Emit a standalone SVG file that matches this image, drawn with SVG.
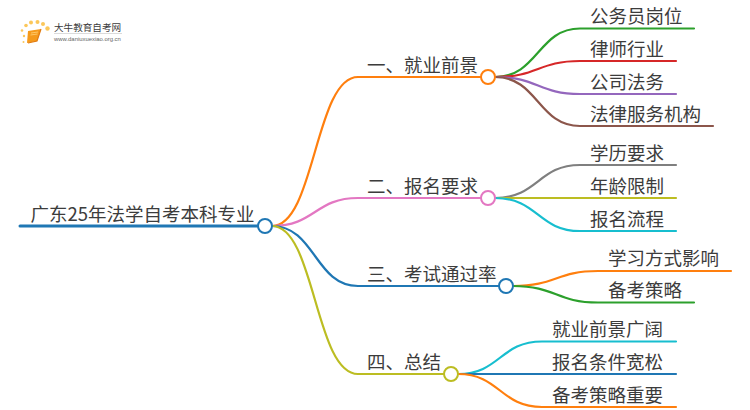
<svg xmlns="http://www.w3.org/2000/svg" width="750" height="410" viewBox="0 0 750 410">
<style>
text{font-family:"Noto Sans CJK SC","Liberation Sans",sans-serif;font-size:18.5px;fill:#3c3c3c}
.c{fill:none;stroke-width:2.2;stroke-linecap:round}
.n{fill:#fff;stroke-width:2}
.o{stroke:#ff7f0e}.p{stroke:#e377c2}.b{stroke:#1f77b4}.y{stroke:#bcbd22}.g{stroke:#2ca02c}.r{stroke:#d62728}.v{stroke:#9467bd}.w{stroke:#8c564b}.h{stroke:#7f7f7f}.t{stroke:#17becf}
</style>
<g id="logo">
<path d="M28 31 L41 29 L37 41 L27 43 Z" fill="#f59a1b"/>
<path d="M31 33 L38 32 M30.500 35 L37.500 34" stroke="#ffd27a" stroke-width="0.800" fill="none"/>
<path d="M28 43 L37 41 L41 29" fill="none" stroke="#e07a10" stroke-width="1.200"/>
<g fill="#fbc75a"><circle cx="26" cy="25.500" r="1.800"/><circle cx="31" cy="22.500" r="2"/><circle cx="37.500" cy="22" r="2"/><circle cx="43" cy="24" r="2"/><circle cx="47.500" cy="28.500" r="2.200"/><circle cx="22" cy="30.500" r="1.300"/><circle cx="24" cy="36" r="1.200"/><circle cx="23.500" cy="42" r="1"/></g>
<text x="54" y="31" style="font-size:9.600px">大牛教育自考网</text>
<rect x="54" y="33" width="68" height="0.700" fill="#ccc"/>
<text x="54" y="41" style="font-size:5.900px;font-family:'Liberation Sans',sans-serif;fill:#666">www.daniuxuexiao.org.cn</text>
</g>
<g id="connectors">
<path class="c b" style="stroke-width:3" d="M20 226H258"/>
<path class="c o" d="M272 226C315 226 315 77 358 77H481"/>
<path class="c p" d="M272 226C315 226 315 198 358 198H481"/>
<path class="c b" d="M272 226C315 226 315 286 358 286H499"/>
<path class="c y" d="M272 226C315 226 315 374 358 374H444"/>
<path class="c g" d="M495 77C538 77 538 28.500 580 28.500H694"/>
<path class="c r" d="M495 77C538 77 538 61 580 61H676"/>
<path class="c v" d="M495 77C538 77 538 94 580 94H676"/>
<path class="c w" d="M495 77C538 77 538 126 580 126H713"/>
<path class="c h" d="M495 198C538 198 538 165 580 165H676"/>
<path class="c y" d="M495 198H676"/>
<path class="c t" d="M495 198C538 198 538 231 580 231H676"/>
<path class="c o" d="M513 286C556 286 556 271 598 271H731"/>
<path class="c g" d="M513 286C556 286 556 302.500 598 302.500H694"/>
<path class="c t" d="M458 374C500 374 500 341.500 542 341.500H676"/>
<path class="c b" d="M458 374H676"/>
<path class="c o" d="M458 374C500 374 500 407 542 407H676"/>
</g>
<g id="root"><text x="30.500" y="221">广东25年法学自考本科专业</text><circle class="n b" cx="265" cy="226" r="7"/></g>
<g id="n1"><text x="367" y="72">一、就业前景</text><circle class="n o" cx="488" cy="77" r="7"/></g>
<g id="n2"><text x="367" y="193">二、报名要求</text><circle class="n p" cx="488" cy="198" r="7"/></g>
<g id="n3"><text x="367" y="281">三、考试通过率</text><circle class="n b" cx="506" cy="286" r="7"/></g>
<g id="n4"><text x="367" y="369">四、总结</text><circle class="n y" cx="451" cy="374" r="7"/></g>
<g id="l11"><text x="590" y="23">公务员岗位</text></g>
<g id="l12"><text x="590" y="56">律师行业</text></g>
<g id="l13"><text x="590" y="89">公司法务</text></g>
<g id="l14"><text x="590" y="121">法律服务机构</text></g>
<g id="l21"><text x="590" y="160">学历要求</text></g>
<g id="l22"><text x="590" y="193">年龄限制</text></g>
<g id="l23"><text x="590" y="226">报名流程</text></g>
<g id="l31"><text x="608" y="265">学习方式影响</text></g>
<g id="l32"><text x="608" y="297">备考策略</text></g>
<g id="l41"><text x="552" y="336">就业前景广阔</text></g>
<g id="l42"><text x="552" y="369">报名条件宽松</text></g>
<g id="l43"><text x="552" y="402">备考策略重要</text></g>
</svg>
